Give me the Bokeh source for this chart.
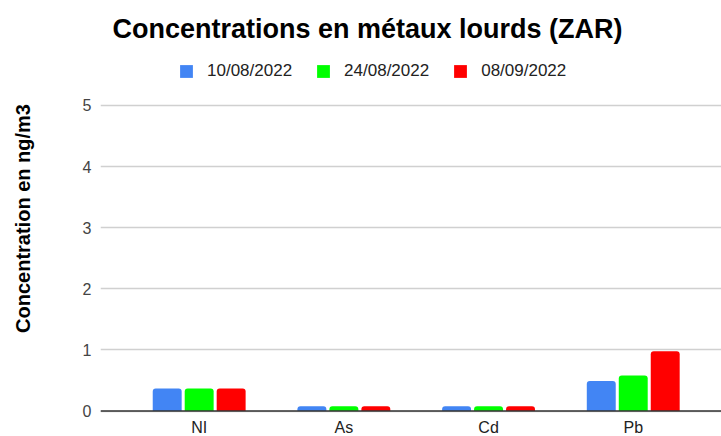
from bokeh.plotting import figure
from bokeh.models import Range1d, FixedTicker, Legend, LegendItem, ColumnDataSource, Label, Span
from bokeh.core.properties import value
from bokeh.transform import dodge
from bokeh.embed import file_html
from bokeh.resources import INLINE

categories = ["NI", "As", "Cd", "Pb"]
series_names = ["10/08/2022", "24/08/2022", "08/09/2022"]
v_10_08 = [0.37, 0.08, 0.08, 0.49]
v_24_08 = [0.37, 0.08, 0.08, 0.58]
v_08_09 = [0.37, 0.08, 0.08, 0.98]
colors = ["#4285F4", "#00FF00", "#FF0000"]
y_ticks = [0, 1, 2, 3, 4, 5]

FONT = "Liberation Sans"
pos = [i + 0.5 for i in range(len(categories))]
src = ColumnDataSource(dict(x=pos, a=v_10_08, b=v_24_08, c=v_08_09))
lab_src = ColumnDataSource(dict(x=pos, y=[0] * len(pos), t=categories))

p = figure(width=721, height=436, output_backend="svg", toolbar_location=None,
           x_range=Range1d(-0.182, 4.11), y_range=Range1d(-0.417, 6.718),
           x_axis_location=None,
           min_border_left=100, min_border_right=0, min_border_bottom=0, min_border_top=0)
p.outline_line_color = None
p.background_fill_color = "white"
p.border_fill_color = "white"

p.ygrid.grid_line_color = "#d0d0d0"
p.ygrid.grid_line_width = 1.5
p.xgrid.grid_line_color = None

baseline = Span(location=0, dimension="width", line_color="#333333", line_width=1.5)
p.add_layout(baseline)

renderers = []
for key, off, col in zip(["a", "b", "c"], [-0.221, 0.0, 0.221], colors):
    r = p.vbar(x=dodge("x", off), top=key, width=0.2, bottom=0, source=src,
               fill_color=col, line_color=None, border_radius=(3, 3, 0, 0))
    renderers.append(r)

p.text(x="x", y="y", text="t", source=lab_src, y_offset=8,
       text_font=value(FONT), text_font_size="16px", text_color="#222222",
       text_align="center", text_baseline="top")

title = Label(x=12, y=407.7, x_units="screen", y_units="screen",
              text="Concentrations en métaux lourds (ZAR)", text_font=FONT,
              text_font_size="27px", text_font_style="bold", text_color="#000000",
              text_baseline="middle", text_align="left")
p.add_layout(title)

legend = Legend(items=[LegendItem(label=n, renderers=[r]) for n, r in zip(series_names, renderers)],
                orientation="horizontal", location=(78, 355),
                glyph_width=16, glyph_height=16, label_height=16, label_standoff=13, spacing=23,
                label_text_font=FONT, label_text_font_size="17px", label_text_color="#222222",
                border_line_color=None, background_fill_alpha=0, padding=0, margin=0)
p.add_layout(legend)

p.yaxis.ticker = FixedTicker(ticks=y_ticks)
p.yaxis.major_tick_line_color = None
p.yaxis.minor_tick_line_color = None
p.yaxis.major_tick_out = 0
p.yaxis.minor_tick_out = 0
p.yaxis.axis_line_color = None
p.yaxis.major_label_standoff = 9
p.yaxis.major_label_text_font = FONT
p.yaxis.major_label_text_font_size = "16px"
p.yaxis.major_label_text_color = "#444444"
p.yaxis.axis_label = "Concentration en ng/m3"
p.yaxis.axis_label_text_font = FONT
p.yaxis.axis_label_text_font_size = "20px"
p.yaxis.axis_label_text_font_style = "bold"
p.yaxis.axis_label_text_color = "#000000"
p.yaxis.axis_label_standoff = 46

open("out.html", "w").write(file_html(p, INLINE))
